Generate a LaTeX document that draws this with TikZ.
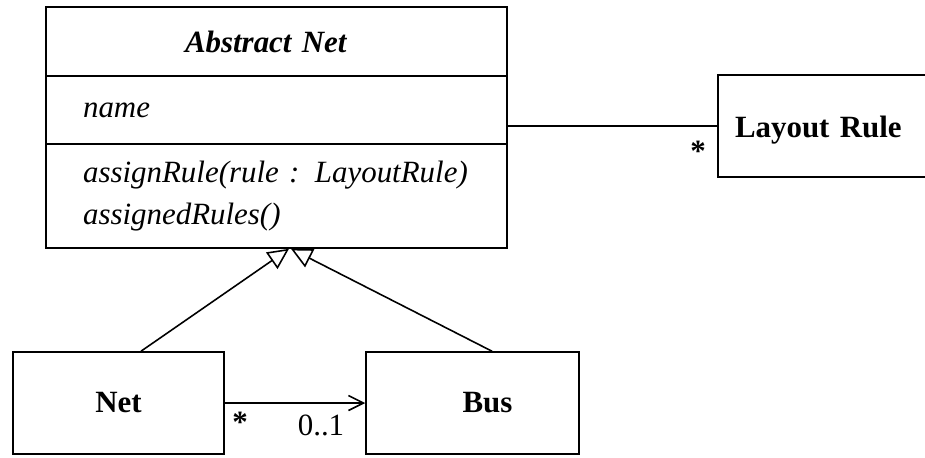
\documentclass[tikz,border=0pt]{standalone}
\usepackage{fontspec}
\setmainfont{Liberation Serif}
\usetikzlibrary{arrows.meta,shapes}

\begin{document}
\begin{tikzpicture}[x=0.02cm, y=-0.02cm,
		box/.style={rectangle, draw, line width=0.9pt, inner sep=0pt},
		txt/.style={font={\fontsize{17.6}{24.4}\selectfont}},
		ital/.style={font={\fontsize{17.6}{24.4}\selectfont\itshape}},
		inherit/.style={-{Triangle[open, length=0.42cm, width=0.4cm]}, line width=0.9pt},
		assoc/.style={-{Straight Barb[length=0.3cm, width=0.3cm]}, line width=0.9pt}]
		\useasboundingbox (0,0) rectangle (925,457);

		\path (276.5, 41.5) node[box, ital, minimum height=1.38cm, text width=3.66cm, align=left, inner xsep=2.78cm] (head) {\bfseries Abstract Net}
  		(276.5, 110) node[box, ital, minimum height=1.36cm, text width=7.74cm, align=left, inner xsep=0.74cm] (attrs) {name}
  		(276.5, 196) node[box, ital, minimum height=2.08cm, text width=7.74cm, align=left, inner xsep=0.74cm] (ops) {assignRule(rule : LayoutRule)\\assignedRules()}
  		(825.5, 126) node[box, txt, minimum height=2.04cm, text width=3.62cm, align=left, inner xsep=0.34cm, text height=0.58cm, text depth=0.14cm] (rule) {\bfseries Layout Rule}
  		(118.5, 403) node[box, txt, minimum width=4.22cm, minimum height=2.04cm] (net) {\bfseries Net}
  		(472.5, 403) node[box, txt, minimum width=4.26cm, minimum height=2.04cm] (bus) {\hspace*{0.6cm}\bfseries Bus}
  		(698, 151) node[txt, inner sep=0pt] (ruleMult) {\bfseries *}
  		(240, 422) node[txt, inner sep=0pt] (netMult) {\bfseries *}
  		(321, 425) node[txt, inner sep=0pt] (busMult) {0..1};

		\draw[line width=0.9pt] (rule.west -| attrs.east) -- (rule.west);
		\draw[inherit] ([xshift=0.45cm]net.north) -- ([xshift=0.25cm]ops.south);
		\draw[inherit] ([xshift=0.39cm]bus.north) -- ([xshift=0.29cm]ops.south);
		\draw[assoc] (net) -- (bus);
	\end{tikzpicture}
\end{document}
